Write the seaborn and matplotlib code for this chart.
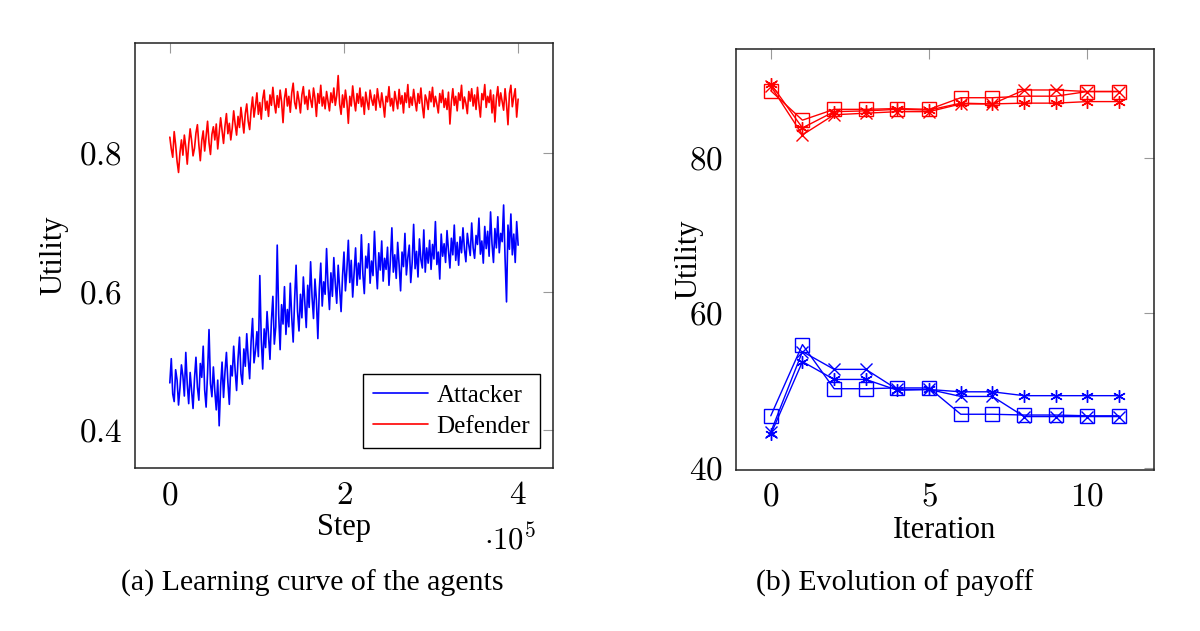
import numpy as np
import pandas as pd
import seaborn as sns
import matplotlib
matplotlib.use("Agg")
import matplotlib.pyplot as plt

# (a) learning curve, evenly spaced over 0 .. 4e5 steps
defender = [
    0.823, 0.806, 0.794, 0.831, 0.812, 0.788, 0.772, 0.801, 0.819, 0.797,
    0.826, 0.809, 0.784, 0.813, 0.835, 0.818, 0.796, 0.807, 0.829, 0.841,
    0.812, 0.789, 0.818, 0.832, 0.803, 0.824, 0.846, 0.815, 0.798, 0.827,
    0.838, 0.819, 0.842, 0.806, 0.829, 0.851, 0.833, 0.814, 0.839, 0.857,
    0.828, 0.843, 0.819, 0.836, 0.861, 0.842, 0.826, 0.853, 0.837, 0.866,
    0.848, 0.829, 0.857, 0.871, 0.846, 0.834, 0.862, 0.881, 0.852, 0.868,
    0.887, 0.856, 0.873, 0.849, 0.878, 0.891, 0.862, 0.875, 0.853, 0.884,
    0.869, 0.895, 0.872, 0.858, 0.883, 0.866, 0.891, 0.874, 0.844, 0.879,
    0.893, 0.868, 0.882, 0.859, 0.887, 0.901, 0.873, 0.864, 0.889, 0.876,
    0.858, 0.884, 0.896, 0.871, 0.882, 0.863, 0.891, 0.877, 0.866, 0.894,
    0.879, 0.853, 0.886, 0.872, 0.898, 0.868, 0.881, 0.864, 0.889, 0.875,
    0.861, 0.887, 0.873, 0.894, 0.869, 0.883, 0.912, 0.871, 0.856, 0.884,
    0.866, 0.891, 0.874, 0.843, 0.882, 0.868, 0.897, 0.876, 0.861, 0.886,
    0.872, 0.894, 0.867, 0.881, 0.856, 0.888, 0.874, 0.863, 0.891, 0.878,
    0.869, 0.884, 0.862, 0.893, 0.877, 0.866, 0.887, 0.871, 0.852, 0.882,
    0.874, 0.896, 0.868, 0.879, 0.861, 0.889, 0.876, 0.864, 0.892, 0.871,
    0.883, 0.858, 0.887, 0.873, 0.899, 0.866, 0.881, 0.869, 0.892, 0.875,
    0.861, 0.886, 0.872, 0.894, 0.868, 0.851, 0.884, 0.877, 0.863, 0.889,
    0.874, 0.895, 0.867, 0.882, 0.871, 0.858, 0.886, 0.873, 0.891, 0.866,
    0.879, 0.863, 0.888, 0.842, 0.874, 0.893, 0.869, 0.882, 0.861, 0.887,
    0.876, 0.898, 0.864, 0.881, 0.872, 0.857, 0.889, 0.875, 0.893, 0.868,
    0.884, 0.863, 0.895, 0.871, 0.852, 0.886, 0.877, 0.899, 0.866, 0.882,
    0.873, 0.891, 0.858, 0.884, 0.845, 0.879, 0.896, 0.868, 0.887, 0.874,
    0.862, 0.893, 0.871, 0.841, 0.886, 0.898, 0.867, 0.881, 0.893, 0.852, 0.878,
]
attacker = [
    0.468, 0.503, 0.452, 0.441, 0.487, 0.472, 0.436, 0.461, 0.494, 0.478,
    0.449, 0.512, 0.466, 0.438, 0.483, 0.457, 0.431, 0.474, 0.505, 0.462,
    0.443, 0.496, 0.476, 0.521, 0.458, 0.433, 0.482, 0.545, 0.467, 0.448,
    0.491, 0.456, 0.429, 0.472, 0.406, 0.463, 0.498, 0.447, 0.484, 0.512,
    0.469, 0.437, 0.493, 0.478, 0.521, 0.486, 0.457, 0.503, 0.534, 0.481,
    0.466, 0.517, 0.492, 0.539, 0.503, 0.474, 0.528, 0.561, 0.497, 0.514,
    0.542, 0.506, 0.623, 0.531, 0.488, 0.546, 0.519, 0.571, 0.537, 0.502,
    0.558, 0.593, 0.524, 0.549, 0.667, 0.567, 0.516, 0.581, 0.553, 0.607,
    0.538, 0.574, 0.549, 0.612, 0.563, 0.527, 0.589, 0.638, 0.571, 0.543,
    0.596, 0.562, 0.621, 0.584, 0.548, 0.609, 0.577, 0.643, 0.592, 0.561,
    0.618, 0.587, 0.532, 0.603, 0.641, 0.579, 0.614, 0.596, 0.662, 0.608,
    0.574, 0.627, 0.593, 0.649, 0.612, 0.583, 0.638, 0.604, 0.571, 0.622,
    0.657, 0.601, 0.632, 0.674, 0.613, 0.645, 0.592, 0.628, 0.663, 0.609,
    0.641, 0.618, 0.682, 0.626, 0.597, 0.651, 0.634, 0.669, 0.612, 0.644,
    0.623, 0.687, 0.638, 0.604, 0.656, 0.631, 0.673, 0.615, 0.648, 0.632,
    0.664, 0.609, 0.645, 0.692, 0.628, 0.653, 0.619, 0.671, 0.638, 0.601,
    0.657, 0.636, 0.684, 0.624, 0.649, 0.667, 0.613, 0.642, 0.697, 0.633,
    0.658, 0.621, 0.676, 0.646, 0.634, 0.689, 0.628, 0.663, 0.641, 0.674,
    0.632, 0.668, 0.647, 0.701, 0.639, 0.657, 0.618, 0.683, 0.651, 0.669,
    0.642, 0.688, 0.659, 0.634, 0.677, 0.653, 0.696, 0.645, 0.671, 0.638,
    0.679, 0.656, 0.692, 0.661, 0.643, 0.684, 0.667, 0.652, 0.699, 0.663,
    0.648, 0.681, 0.668, 0.706, 0.654, 0.673, 0.641, 0.694, 0.662, 0.687,
    0.651, 0.715, 0.669, 0.642, 0.691, 0.663, 0.708, 0.656, 0.684, 0.672,
    0.725, 0.648, 0.585, 0.696, 0.661, 0.712, 0.653, 0.683, 0.642, 0.701, 0.667,
]
max_step = 4e5

# (b) payoff per iteration, three runs per agent
iterations = list(range(12))
def_square = [88.7, 84.9, 86.3, 86.3, 86.4, 86.3, 87.8, 87.8, 88.0, 88.0, 88.6, 88.6]
def_cross = [89.3, 83.0, 85.6, 85.8, 86.0, 86.0, 87.0, 87.0, 88.8, 88.8, 88.6, 88.6]
def_star = [89.6, 83.9, 86.0, 86.1, 86.3, 86.2, 87.1, 87.0, 87.1, 87.1, 87.3, 87.3]
att_square = [46.7, 55.9, 50.2, 50.2, 50.3, 50.3, 46.9, 46.9, 46.8, 46.8, 46.7, 46.7]
att_cross = [44.6, 55.0, 52.7, 52.7, 50.1, 50.1, 49.2, 49.2, 46.6, 46.6, 46.6, 46.6]
att_star = [44.3, 53.7, 51.4, 51.4, 50.0, 50.1, 49.8, 49.8, 49.3, 49.3, 49.3, 49.3]

sns.set_style("white")
plt.rcParams["font.family"] = ["Liberation Serif", "DejaVu Serif"]
plt.rcParams["mathtext.fontset"] = "cm"
plt.rcParams["text.color"] = "black"
plt.rcParams["axes.labelcolor"] = "black"

fig = plt.figure(figsize=(12, 6.31), dpi=100)
ax1 = fig.add_axes([0.1125, 0.2583, 0.3483, 0.6735])
ax2 = fig.add_axes([0.6133, 0.2552, 0.3483, 0.6672])

att_df = pd.DataFrame({"step": np.linspace(0, max_step, len(attacker)) / 1e5, "u": attacker})
def_df = pd.DataFrame({"step": np.linspace(0, max_step, len(defender)) / 1e5, "u": defender})
sns.lineplot(data=att_df, x="step", y="u", ax=ax1, color="blue", lw=1.2, label="Attacker")
sns.lineplot(data=def_df, x="step", y="u", ax=ax1, color="red", lw=1.2, label="Defender")

runs = [
    (def_square, "red", "s"), (def_cross, "red", "x"), (def_star, "red", (6, 2, 0)),
    (att_square, "blue", "s"), (att_cross, "blue", "x"), (att_star, "blue", (6, 2, 0)),
]
for vals, col, mk in runs:
    sns.lineplot(x=iterations, y=vals, ax=ax2, color=col, lw=1.0, marker=mk,
                 markersize=10 if mk == "s" else 9, markerfacecolor="none",
                 markeredgecolor=col, markeredgewidth=1.0)

ax1.set_xlim(-0.4, 4.4)
ax1.set_ylim(0.345, 0.959)
ax1.set_xticks([0, 2, 4])
ax1.set_xticklabels(["$0$", "$2$", "$4$"])
ax1.set_yticks([0.4, 0.6, 0.8])
ax1.set_yticklabels(["$0.4$", "$0.6$", "$0.8$"])

ax2.set_xlim(-1.1, 12.1)
ax2.set_ylim(39.7, 94.1)
ax2.set_xticks([0, 5, 10])
ax2.set_xticklabels(["$0$", "$5$", "$10$"])
ax2.set_yticks([40, 60, 80])
ax2.set_yticklabels(["$40$", "$60$", "$80$"])

for ax in (ax1, ax2):
    ax.tick_params(direction="in", length=7, width=0.8, color="#999999",
                   labelcolor="black", top=True, right=True, labelsize=24, pad=9)
    for s in ax.spines.values():
        s.set_color("#222222")
        s.set_linewidth(1.1)
    ax.set_ylabel("Utility", fontsize=22)

ax1.set_xlabel("Step", fontsize=22)
ax2.set_xlabel("Iteration", fontsize=22)
ax1.yaxis.set_label_coords(-0.16, 0.5)
ax2.yaxis.set_label_coords(-0.078, 0.5)
ax1.xaxis.set_label_coords(0.5, -0.105)
ax2.xaxis.set_label_coords(0.5, -0.11)

leg = ax1.legend(loc="lower right", bbox_to_anchor=(0.969, 0.047), borderaxespad=0,
                 fontsize=18, frameon=True, fancybox=False, edgecolor="black",
                 framealpha=1, handlelength=2.2, handletextpad=0.35,
                 borderpad=0.4, labelspacing=0.35)
leg.get_frame().set_linewidth(1.0)

fig.text(0.425, 0.143, r"$\cdot 10^5$", fontsize=22, ha="center", va="center")
fig.text(0.26, 0.076, "(a) Learning curve of the agents", fontsize=21.5, ha="center", va="center")
fig.text(0.746, 0.076, "(b) Evolution of payoff", fontsize=21.5, ha="center", va="center")

fig.savefig("out.png", dpi=100)
